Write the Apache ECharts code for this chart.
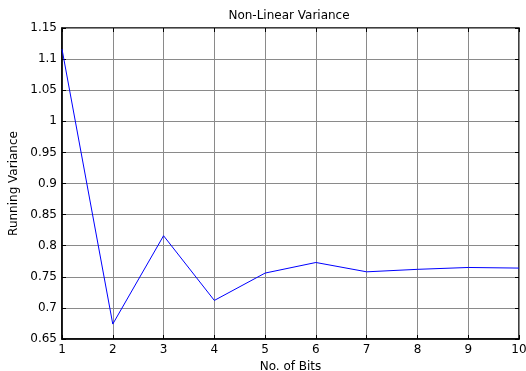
<!DOCTYPE html>
<html>
<head>
<meta charset="utf-8">
<script src="https://cdn.jsdelivr.net/npm/echarts@6/dist/echarts.min.js"></script>
<style>
  html, body { margin: 0; padding: 0; background: #fff; }
  #chart { width: 526px; height: 371px; }
</style>
</head>
<body>
<div id="chart"></div>
<script>
const bits     = [1, 2, 3, 4, 5, 6, 7, 8, 9, 10];
const variance = [1.116, 0.674, 0.816, 0.712, 0.756, 0.773, 0.758, 0.762, 0.765, 0.764];

const font = 'DejaVu Sans, Liberation Sans, sans-serif';
const fmt  = (v) => String(parseFloat(v.toFixed(2)));

const chart = echarts.init(document.getElementById('chart'), null, { renderer: 'canvas' });

// secondary axes only draw the inward ticks on the top/right edges
const mirror = {
    axisLine:  { show: false },
    axisTick:  { inside: true, length: 4, lineStyle: { color: '#000' } },
    axisLabel: { show: false },
    splitLine: { show: false }
};

chart.setOption({
    animation: false,
    title: {
        text: 'Non-Linear Variance',
        left: 284, top: 5, textAlign: 'center',
        textStyle: { fontFamily: font, fontSize: 12, fontWeight: 'normal', color: '#000' }
    },
    grid: {
        left: 62, right: 7, top: 28, bottom: 32,
        outerBoundsMode: 'none',
        show: true, borderColor: '#000', borderWidth: 1.5, backgroundColor: '#fff'
    },
    xAxis: [{
        type: 'value', min: 1, max: 10, interval: 1,
        name: 'No. of Bits', nameLocation: 'middle', nameGap: 17,
        nameTextStyle: { fontFamily: font, fontSize: 12, color: '#000' },
        axisLine:  { lineStyle: { color: '#000', width: 1.5 } },
        axisTick:  { inside: true, length: 4, lineStyle: { color: '#000' } },
        axisLabel: { fontFamily: font, fontSize: 12, color: '#000', margin: 5 },
        splitLine: { lineStyle: { color: '#8a8a8a', width: 1 } }
    }, Object.assign({ type: 'value', position: 'top', min: 1, max: 10, interval: 1 }, mirror)],
    yAxis: [{
        type: 'value', min: 0.65, max: 1.15, interval: 0.05,
        name: 'Running Variance', nameLocation: 'middle', nameGap: 39,
        nameTextStyle: { fontFamily: font, fontSize: 12, color: '#000' },
        axisLine:  { show: true, lineStyle: { color: '#000', width: 1.5 } },
        axisTick:  { show: true, inside: true, length: 4, lineStyle: { color: '#000' } },
        axisLabel: { fontFamily: font, fontSize: 12, color: '#000', margin: 5, formatter: fmt },
        splitLine: { lineStyle: { color: '#8a8a8a', width: 1 } }
    }, Object.assign({ type: 'value', position: 'right', min: 0.65, max: 1.15, interval: 0.05 }, mirror)],
    series: [{
        type: 'line',
        data: bits.map((b, i) => [b, variance[i]]),
        showSymbol: false,
        lineStyle: { color: '#0000ff', width: 1 },
        itemStyle: { color: '#0000ff' }
    }]
});
</script>
</body>
</html>
